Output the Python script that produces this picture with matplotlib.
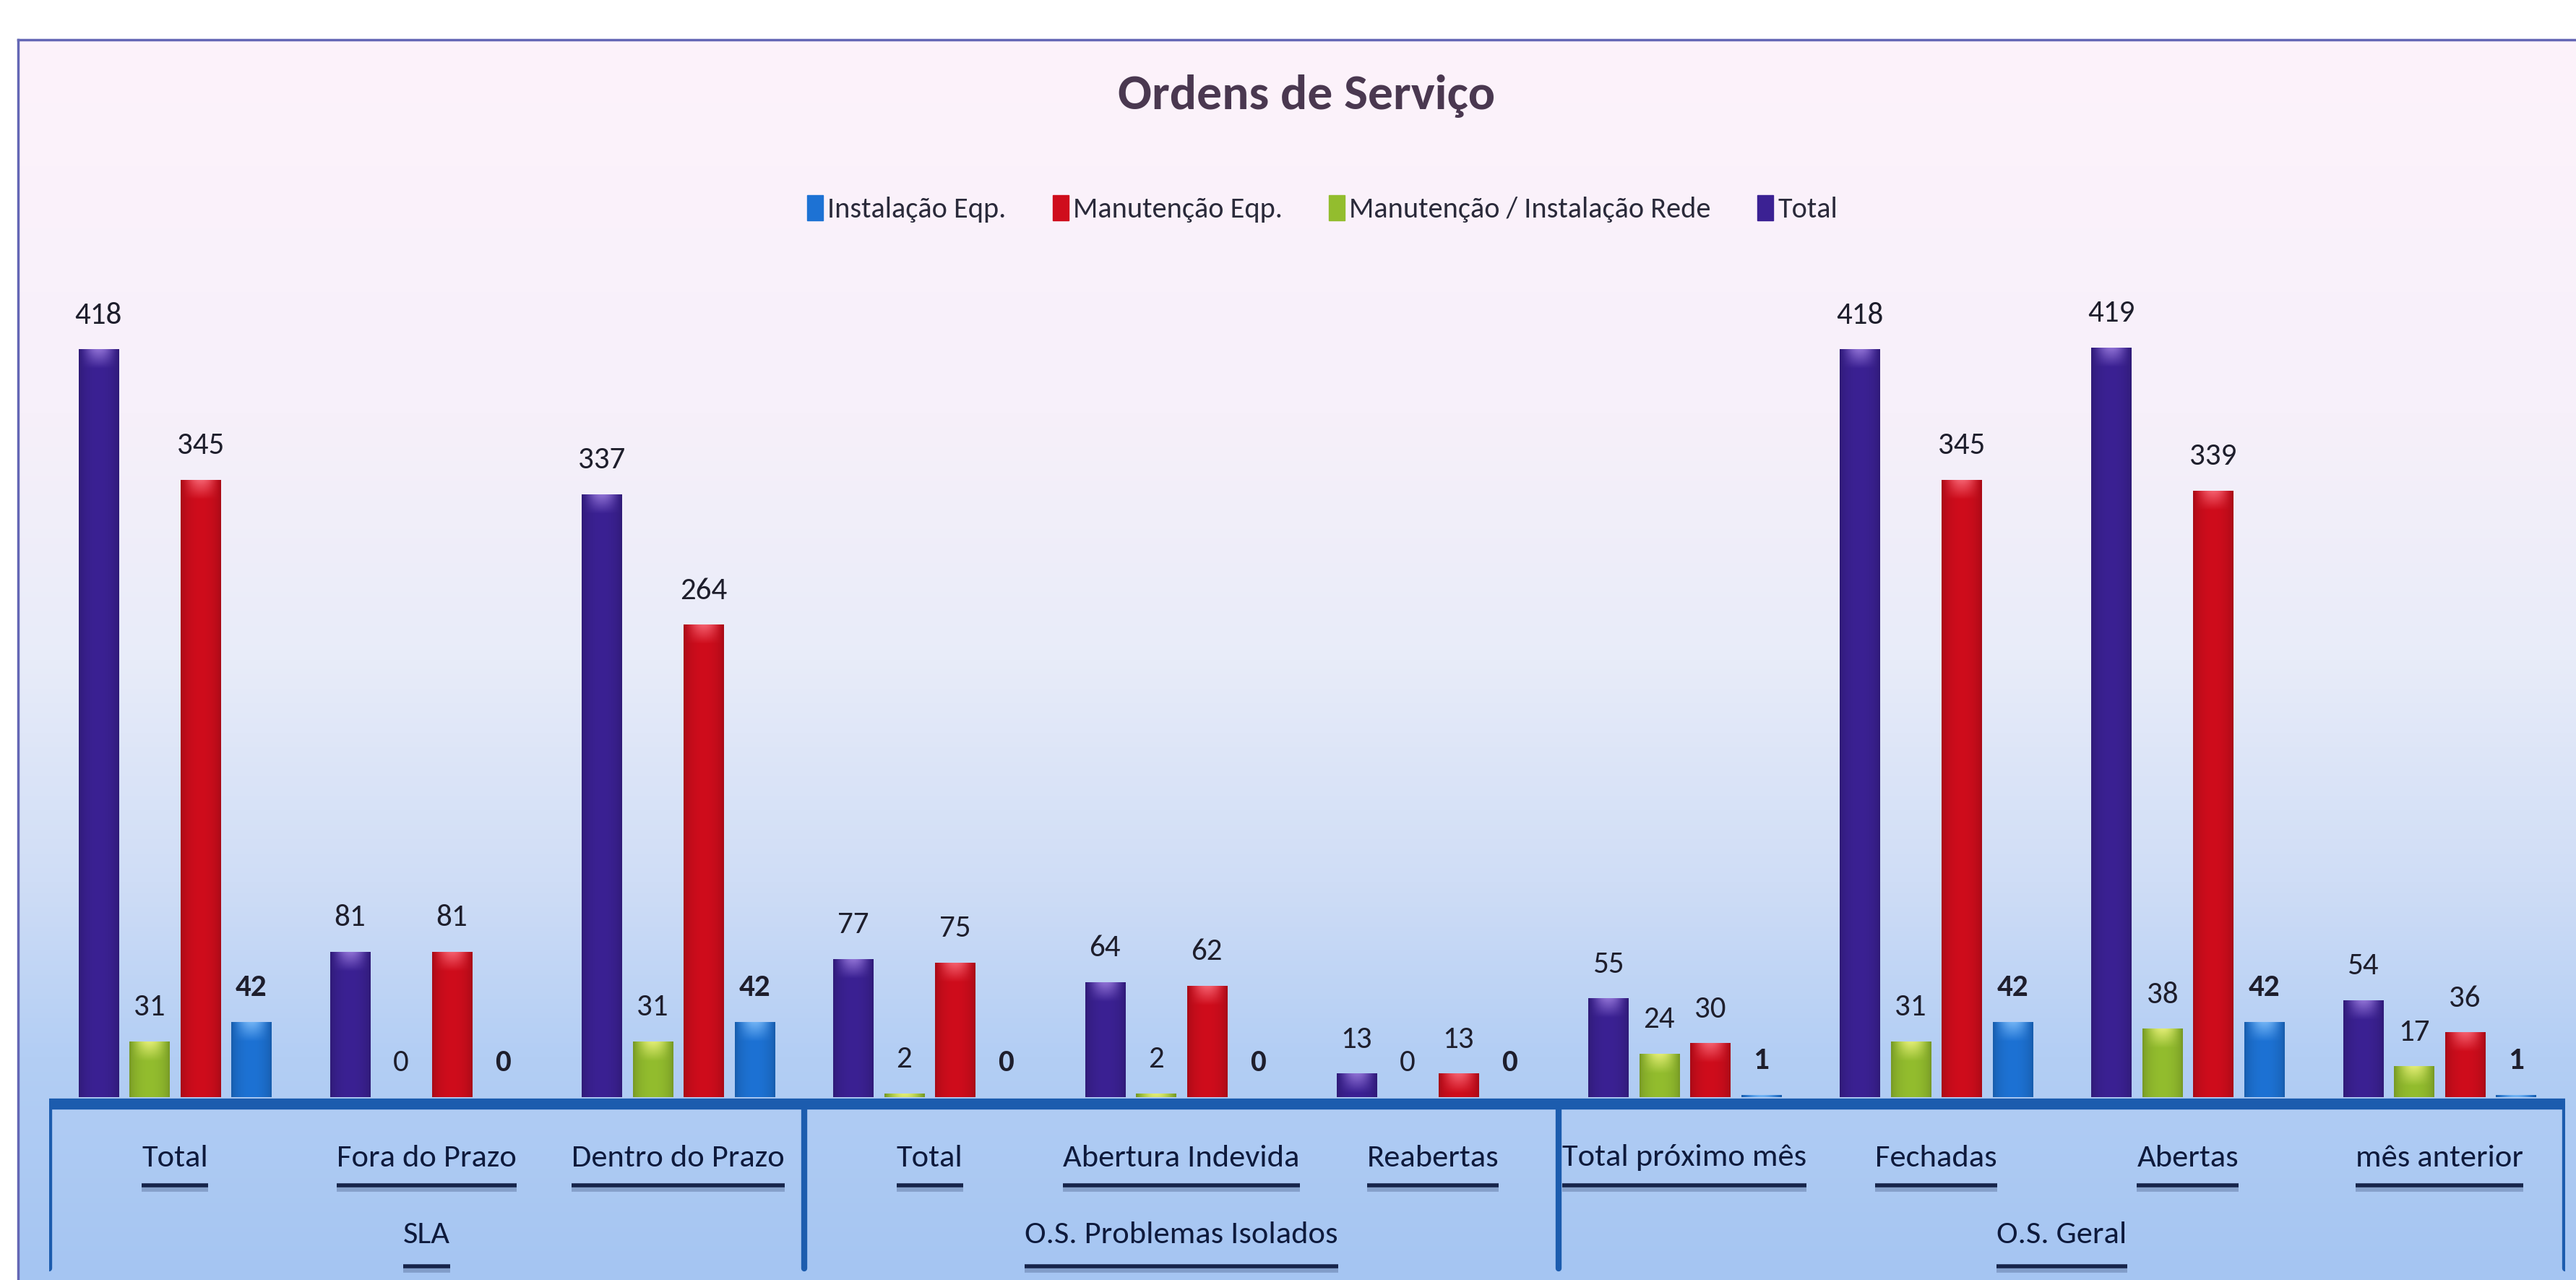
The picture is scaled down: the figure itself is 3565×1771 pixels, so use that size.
import numpy as np
import matplotlib
matplotlib.use("Agg")
import matplotlib.pyplot as plt
from matplotlib.patches import Patch
from matplotlib.colors import to_rgb, LinearSegmentedColormap
from matplotlib.lines import Line2D

plt.rcParams['font.family'] = ['Carlito', 'DejaVu Sans']

# data
categories = ["Total", "Fora do Prazo", "Dentro do Prazo",
              "Total", "Abertura Indevida", "Reabertas",
              "Total próximo mês", "Fechadas", "Abertas", "mês anterior"]
groups = ["SLA", "O.S. Problemas Isolados", "O.S. Geral"]
group_sizes = [3, 3, 4]

total = [418, 81, 337, 77, 64, 13, 55, 418, 419, 54]
rede = [31, 0, 31, 2, 2, 0, 24, 31, 38, 17]
manut_eqp = [345, 81, 264, 75, 62, 13, 30, 345, 339, 36]
instal_eqp = [42, 0, 42, 0, 0, 0, 1, 42, 42, 1]

series_names = ["Total", "Manutenção / Instalação Rede", "Manutenção Eqp.", "Instalação Eqp."]
series_vals = [total, rede, manut_eqp, instal_eqp]
series_cols = ["#3b2193", "#93bd2e", "#cf0d1c", "#1d72d4"]
series_hi = ["#a98ae8", "#fbfb8a", "#ff7a88", "#8cc8ff"]
legend_order = [3, 2, 1, 0]

W, H = 3565, 1771
DPI = 100
Y0_PX = 1518          # pixel row of value 0
PX_PER_UNIT = 2.474   # pixels per unit on the value axis
X_LEFT_PX, X_RIGHT_PX = 68, 3550


def ydata(px):
    return (Y0_PX - px) / PX_PER_UNIT


fig = plt.figure(figsize=(W / DPI, H / DPI), dpi=DPI)
fig.patch.set_facecolor("white")

# background gradient inside the frame
bg = fig.add_axes([25 / W, 0, 1 - 25 / W, (H - 55) / H], zorder=-5)
grad_cmap = LinearSegmentedColormap.from_list(
    "bg", [(0.0, "#fdf3fb"), (0.3, "#f7f0fa"), (0.5, "#e8ecf9"),
           (0.68, "#cfddf6"), (0.82, "#b3cef4"), (1.0, "#a5c5f2")])
bg.imshow(np.linspace(0, 1, 256)[:, None], cmap=grad_cmap, aspect="auto",
          extent=(0, 1, 0, 1), origin="upper")
bg.set_axis_off()

# frame lines (left and top)
fig.add_artist(Line2D([25 / W, 25 / W], [0, (H - 55) / H], color="#6467b5", lw=2.5))
fig.add_artist(Line2D([25 / W, 1], [(H - 55) / H, (H - 55) / H], color="#6467b5", lw=2.5))

ax = fig.add_axes([X_LEFT_PX / W, 0, (X_RIGHT_PX - X_LEFT_PX) / W, 1])
ax.set_axis_off()

x = np.arange(len(categories))
step = 0.2025
bw = 0.158
offsets = (np.arange(4) - 1.5) * step

for k, (vals, col, hi) in enumerate(zip(series_vals, series_cols, series_hi)):
    bars = ax.bar(x + offsets[k], vals, bw, color=col, zorder=3)
    base = np.array(to_rgb(col))
    hic = np.array(to_rgb(hi))
    for p in bars.patches:
        h = p.get_height()
        if h <= 0:
            continue
        rows = max(int(h * PX_PER_UNIT), 2)
        u = np.linspace(0, 1, 24)
        prof = 0.82 + 0.18 * np.sin(np.pi * u) ** 0.6
        img = np.ones((rows, 24, 3)) * base[None, None, :] * prof[None, :, None]
        d = np.arange(rows)[:, None]
        s = np.clip(1 - d / 26.0, 0, 1) * 0.75 * np.sin(np.pi * u)[None, :] ** 1.5
        img = img * (1 - s[..., None]) + hic[None, None, :] * s[..., None]
        ax.imshow(img, extent=(p.get_x(), p.get_x() + p.get_width(), 0, h),
                  aspect="auto", interpolation="bilinear", zorder=4)
    for xi, v in zip(x + offsets[k], vals):
        ax.annotate(str(v), (xi, v), xytext=(0, 21), textcoords="offset points",
                    ha="center", va="bottom", fontsize=31, color="#1e1e2c",
                    fontweight="bold" if k == 3 else "normal", zorder=6)

# category box
y_base = ydata(Y0_PX + 9)
y_bot = ydata(1755)
ax.plot([-0.5, len(categories) - 0.5], [y_base, y_base], color="#1c5cae", lw=11,
        solid_capstyle="round", zorder=5)
edges = np.concatenate([[0], np.cumsum(group_sizes)]) - 0.5
for e in edges:
    ax.plot([e, e], [y_base, y_bot], color="#1c5cae", lw=6, solid_capstyle="round", zorder=5)

cat_texts = []
for xi, c in zip(x, categories):
    t = ax.text(xi, ydata(1602), c, ha="center", va="center", fontsize=32,
                color="#0e1a3c", zorder=6)
    cat_texts.append((t, ydata(1640)))
grp_centers = [(edges[i] + edges[i + 1]) / 2 for i in range(len(groups))]
for gc, g in zip(grp_centers, groups):
    t = ax.text(gc, ydata(1708), g, ha="center", va="center", fontsize=32,
                color="#0e1a3c", zorder=6)
    cat_texts.append((t, ydata(1752)))

ax.set_xlim(-0.5, len(categories) - 0.5)
ax.set_ylim(ydata(H), ydata(0))

# underline the axis labels
fig.canvas.draw()
r = fig.canvas.get_renderer()
inv = ax.transData.inverted()
for t, yu in cat_texts:
    bb = t.get_window_extent(r)
    x0 = inv.transform((bb.x0, 0))[0]
    x1 = inv.transform((bb.x1, 0))[0]
    ax.plot([x0, x1], [yu - 1.5, yu - 1.5], color="#1a2a55", lw=7, alpha=0.25,
            solid_capstyle="butt", zorder=5)
    ax.plot([x0, x1], [yu, yu], color="#16244a", lw=4, solid_capstyle="butt", zorder=6)

# title and legend
fig.text(1808 / W, 1 - 133 / H, "Ordens de Serviço", ha="center", va="center",
         fontsize=50, fontweight="bold", color="#4a3850")
handles = [Patch(facecolor=series_cols[i], edgecolor=series_cols[i]) for i in legend_order]
labels = [series_names[i] for i in legend_order]
leg = fig.legend(handles, labels, loc="center", bbox_to_anchor=(1830 / W, 1 - 289 / H),
                 ncol=4, frameon=False, fontsize=29, handlelength=0.55, handleheight=0.95,
                 handletextpad=0.15, columnspacing=1.6)
for tx in leg.get_texts():
    tx.set_color("#2a2a3a")

fig.savefig("out.png", dpi=DPI)
